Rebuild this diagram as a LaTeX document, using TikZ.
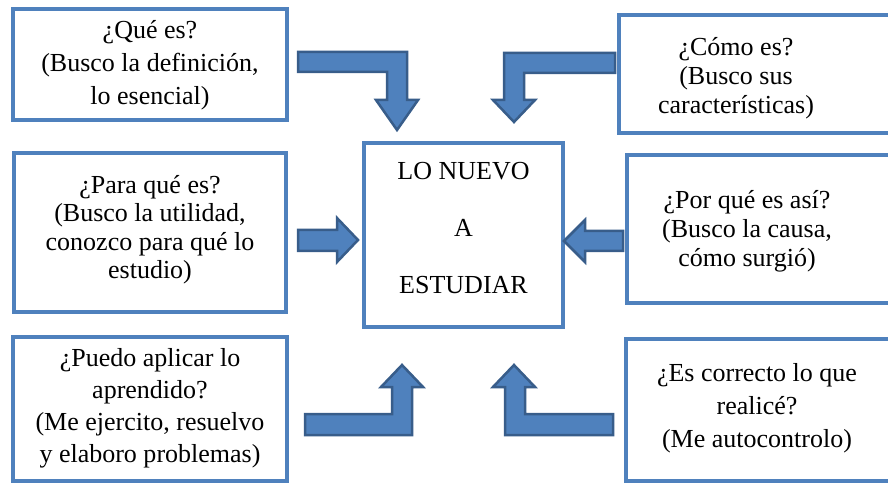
\documentclass[tikz,border=0pt]{standalone}
\usepackage{fontspec}
\setmainfont{Liberation Serif}
\newfontfamily\timesfont{Liberation Serif}
\definecolor{boxblue}{HTML}{4F81BD}
\definecolor{arrowfill}{HTML}{4F81BD}
\definecolor{arrowline}{HTML}{385D8A}
\begin{document}
\begin{tikzpicture}[x=1bp,y=-1bp,
  box/.style={draw=boxblue, line width=4bp, fill=white, inner sep=0pt, rectangle},
  txt/.style={align=center, inner sep=0pt, font=\timesfont\fontsize{26bp}{#1}\selectfont},
  txt/.default={31bp},
  blockarrow/.style={fill=arrowfill, draw=arrowline, line width=2.5bp, line join=miter}]
\useasboundingbox (0,0) rectangle (888,483);
\clip (0,0) rectangle (888,483);
\fill[white] (0,0) rectangle (888,483);

% boxes
\node[box, minimum width=274bp, minimum height=111bp] (boxA) at (150,64.5) {};
\node[box, minimum width=291bp, minimum height=118bp] (boxB) at (764.5,74) {};
\node[box, minimum width=272bp, minimum height=159bp] (boxC) at (150,232.5) {};
\node[box, minimum width=283bp, minimum height=148bp] (boxD) at (768.5,229) {};
\node[box, minimum width=274bp, minimum height=144bp] (boxE) at (150,409) {};
\node[box, minimum width=284bp, minimum height=142bp] (boxF) at (768,410) {};
\node[box, minimum width=199bp, minimum height=184bp] (center) at (463.5,235) {};

% texts
\node[txt=33bp] (tA) at (150,65.5) {¿Qué es?\\(Busco la definición,\\lo esencial)};
\node[txt=29bp] (tB) at (736,78.5) {¿Cómo es?\\(Busco sus\\características)};
\node[txt=28.5bp] (tC) at (150,229.5) {¿Para qué es?\\(Busco la utilidad,\\conozco para qué lo\\estudio)};
\node[txt=29bp] (tD) at (747,231.5) {¿Por qué es así?\\(Busco la causa,\\cómo surgió)};
\node[txt=32bp] (tE) at (150,408) {¿Puedo aplicar lo\\aprendido?\\(Me ejercito, resuelvo\\y elaboro problemas)};
\node[txt=33bp] (tF) at (757,408) {¿Es correcto lo que\\realicé?\\(Me autocontrolo)};
\node[txt=57bp] (tCenter) at (463.5,228.5) {LO NUEVO\\A\\ESTUDIAR};

% block arrows
\draw[blockarrow] (298,52) -- (407,52) -- (407,100) -- (418,100) -- (397,130) -- (376,100) -- (387,100) -- (387,72) -- (298,72) -- cycle;
\draw[blockarrow] (615,53) -- (504,53) -- (504,100) -- (493,100) -- (514,122) -- (535,100) -- (524,100) -- (524,73) -- (615,73) -- cycle;
\draw[blockarrow] (305,435) -- (412,435) -- (412,387) -- (423,387) -- (402,365) -- (381,387) -- (392,387) -- (392,414) -- (305,414) -- cycle;
\draw[blockarrow] (613,435) -- (505,435) -- (505,387) -- (493,387) -- (514,365) -- (535,387) -- (525,387) -- (525,414) -- (613,414) -- cycle;
\draw[blockarrow] (298,230) -- (337,230) -- (337,218) -- (358,240) -- (337,262) -- (337,251) -- (298,251) -- cycle;
\draw[blockarrow] (623,231) -- (585,231) -- (585,220) -- (564,241) -- (585,262) -- (585,251) -- (623,251) -- cycle;
\end{tikzpicture}
\end{document}
